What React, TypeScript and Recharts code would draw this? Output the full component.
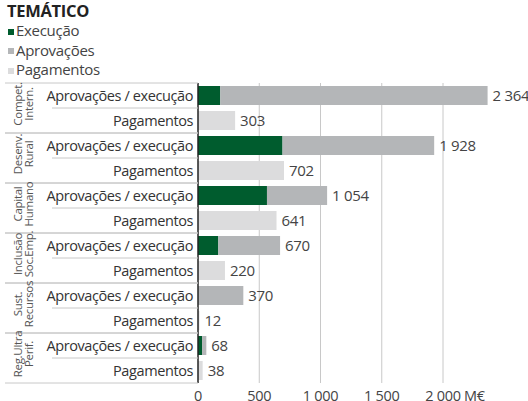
import React from "react";
import {
  BarChart,
  Bar,
  XAxis,
  YAxis,
  CartesianGrid,
  LabelList,
} from "recharts";

const categories = [
  ["Compet.", "Intern."],
  ["Desenv.", "Rural"],
  ["Capital", "Humano"],
  ["Inclusão", "Soc.Emp."],
  ["Sust.", "Recursos"],
  ["Reg.Ultra", "Perif."],
];
const approvals = [2364, 1928, 1054, 670, 370, 68];
const execution = [182, 690, 563, 166, 0, 33];
const payments = [303, 702, 641, 220, 12, 38];
const rowLabels = ["Aprovações / execução", "Pagamentos"];
const xTicks = [0, 500, 1000, 1500, 2000];
const unit = "M€";

const legendItems = [
  { name: "Execução", color: "#005c2e" },
  { name: "Aprovações", color: "#b4b6b8" },
  { name: "Pagamentos", color: "#dcdcdd" },
];

const W = 528;
const H = 401;
const AXIS_X = 198;
const TOP = 83;
const X_AXIS_H = 18;
const FONT = "'Open Sans', 'Noto Sans', sans-serif";

type Row = {
  key: string;
  cat: number;
  kind: number;
  exec?: number;
  rest?: number;
  total?: number;
  pay?: number;
};

const rows: Row[] = [];
categories.forEach((_, i) => {
  rows.push({
    key: `${i}-a`,
    cat: i,
    kind: 0,
    exec: execution[i],
    rest: approvals[i] - execution[i],
    total: approvals[i],
  });
  rows.push({ key: `${i}-p`, cat: i, kind: 1, pay: payments[i] });
});
const rowByKey: Record<string, Row> = {};
rows.forEach((r) => (rowByKey[r.key] = r));

const band = (H - TOP - X_AXIS_H) / rows.length;

// thousands separated by a non-breaking space so the label never wraps
const fmt = (v: any) =>
  v === undefined || v === null
    ? ""
    : String(v).replace(/\B(?=(\d{3})+(?!\d))/g, "\u00a0");

const RowTick = (props: any) => {
  const { y, payload } = props;
  const row = rowByKey[payload.value];
  if (!row) return null;
  const half = band / 2;
  const cy = y + half;
  return (
    <g>
      <text
        x={AXIS_X - 5}
        y={y + 5}
        textAnchor="end"
        fontSize={14.5}
        fill="#333"
        fontFamily={FONT}
        letterSpacing={-0.4}
      >
        {rowLabels[row.kind]}
      </text>
      {row.kind === 0 ? (
        <g>
          <line x1={5} x2={AXIS_X} y1={y - half} y2={y - half} stroke="#c8c8c8" />
          <line x1={52} x2={AXIS_X} y1={cy} y2={cy} stroke="#c8c8c8" />
          {categories[row.cat].map((t, j) => (
            <text
              key={j}
              x={22 + j * 11}
              y={cy - 4}
              transform={`rotate(-90 ${22 + j * 11} ${cy - 4})`}
              textAnchor="middle"
              fontSize={11.5}
              fill="#555"
              fontFamily={FONT}
              letterSpacing={-0.3}
            >
              {t}
            </text>
          ))}
        </g>
      ) : (
        <line x1={5} x2={AXIS_X} y1={cy} y2={cy} stroke="#c8c8c8" />
      )}
    </g>
  );
};

const XTick = (props: any) => {
  const { x, payload } = props;
  const last = payload.value === xTicks[xTicks.length - 1];
  return (
    <g fontFamily={FONT} fontSize={14.5} fill="#444" letterSpacing={-0.3}>
      <text x={x} y={H} textAnchor="middle">
        {fmt(payload.value)}
      </text>
      {last && (
        <text x={x + 21} y={H} textAnchor="start">
          {unit}
        </text>
      )}
    </g>
  );
};

const labelStyle = {
  fontSize: 15,
  fill: "#444",
  fontFamily: FONT,
  letterSpacing: -0.3,
};

export default function App() {
  return (
    <div
      style={{
        position: "absolute",
        left: 0,
        top: 0,
        width: W,
        height: H,
        fontFamily: FONT,
        background: "#fff",
      }}
    >
      <div
        style={{
          position: "absolute",
          left: 7,
          top: -1,
          fontWeight: 700,
          fontSize: 16.5,
          color: "#222",
          letterSpacing: -0.3,
        }}
      >
        TEMÁTICO
      </div>
      {legendItems.map((it, i) => (
        <div
          key={it.name}
          style={{
            position: "absolute",
            left: 8,
            top: 20 + i * 19.5,
            height: 20,
            display: "flex",
            alignItems: "center",
            fontSize: 15,
            color: "#444",
            letterSpacing: -0.3,
          }}
        >
          <span
            style={{
              display: "inline-block",
              width: 6,
              height: 6,
              background: it.color,
              marginRight: 2,
              marginTop: 3,
            }}
          />
          {it.name}
        </div>
      ))}
      <div style={{ position: "absolute", left: 0, top: 0 }}>
        <BarChart
          width={W}
          height={H}
          data={rows}
          layout="vertical"
          margin={{ top: TOP, right: 36, left: 0, bottom: 0 }}
          barSize={19}
        >
          <CartesianGrid
            horizontal={false}
            vertical={true}
            stroke="#c8c8c8"
            verticalValues={xTicks.slice(1)}
          />
          <XAxis
            type="number"
            domain={[0, 2400]}
            ticks={xTicks}
            height={X_AXIS_H}
            axisLine={false}
            tickLine={false}
            tick={<XTick />}
            interval={0}
          />
          <YAxis
            type="category"
            dataKey="key"
            width={AXIS_X}
            axisLine={{ stroke: "#222", strokeWidth: 1.5 }}
            tickLine={false}
            tick={<RowTick />}
            interval={0}
          />
          <Bar dataKey="exec" stackId="s" fill="#005c2e" isAnimationActive={false} />
          <Bar dataKey="rest" stackId="s" fill="#b4b6b8" isAnimationActive={false}>
            <LabelList
              dataKey="total"
              position="right"
              offset={5}
              formatter={fmt}
              style={labelStyle}
            />
          </Bar>
          <Bar dataKey="pay" stackId="s" fill="#dcdcdd" isAnimationActive={false}>
            <LabelList
              dataKey="pay"
              position="right"
              offset={5}
              formatter={fmt}
              style={labelStyle}
            />
          </Bar>
        </BarChart>
      </div>
    </div>
  );
}
